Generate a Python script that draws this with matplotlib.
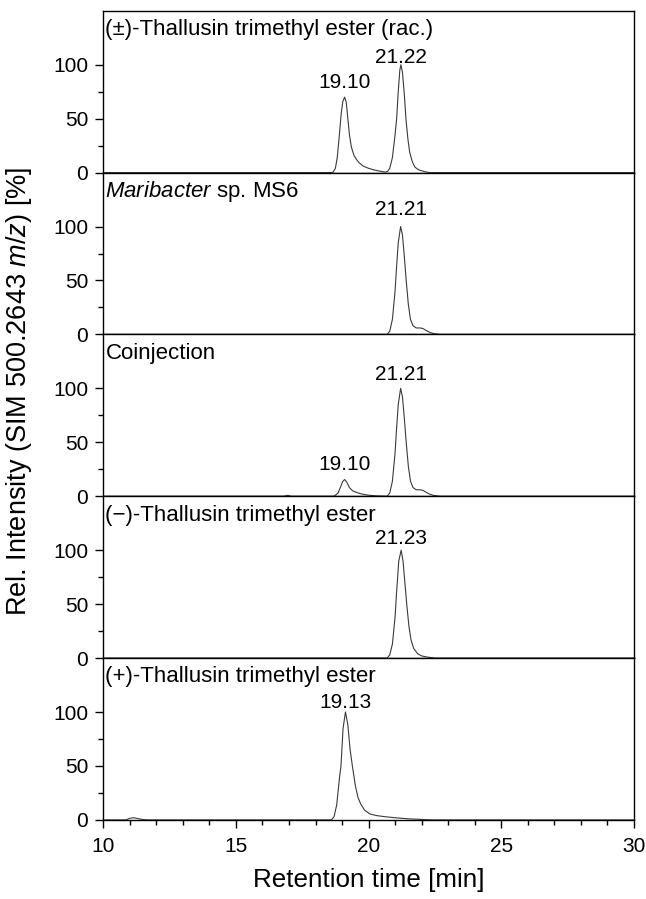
import numpy as np
import matplotlib
matplotlib.use("Agg")
import matplotlib.pyplot as plt
from matplotlib.ticker import MultipleLocator, FixedLocator

plt.rcParams['font.family'] = ['Liberation Sans', 'DejaVu Sans']
plt.rcParams['mathtext.fontset'] = 'custom'
plt.rcParams['mathtext.rm'] = 'Liberation Sans'
plt.rcParams['mathtext.it'] = 'Liberation Sans:italic'

# traces (time [min], rel. intensity [%])
rac_t = [10.0, 18.65, 18.75, 18.82, 18.90, 18.97, 19.03, 19.10, 19.16, 19.22, 19.28, 19.35,
         19.45, 19.55, 19.65, 19.80, 20.00, 20.20, 20.40, 20.55, 20.65, 20.72, 20.80, 20.90,
         21.00, 21.06, 21.12, 21.18, 21.22, 21.28, 21.35, 21.41, 21.48, 21.55, 21.65, 21.75,
         21.90, 22.10, 22.30, 30.0]
rac_y = [0, 0, 4, 14, 35, 55, 66, 70, 65, 50, 35, 24,
         16, 12, 9, 6, 4, 2.5, 1.5, 0.8, 0.5, 1.2, 4, 14,
         35, 50, 75, 95, 100, 93, 72, 50, 32, 19, 10, 5,
         2.5, 1, 0, 0]

mari_t = [10.0, 20.70, 20.80, 20.90, 21.00, 21.05, 21.12, 21.21, 21.28, 21.35, 21.42, 21.50,
          21.58, 21.68, 21.80, 21.95, 22.05, 22.15, 22.30, 22.45, 22.70, 30.0]
mari_y = [0, 0, 3, 14, 40, 60, 85, 100, 92, 72, 50, 28,
          14, 8, 6, 6, 5.5, 4, 2, 0.8, 0, 0]

coin_t = [10.0, 16.80, 16.95, 17.10, 18.70, 18.85, 18.95, 19.02, 19.10, 19.18, 19.28, 19.40,
          19.55, 19.75, 20.00, 20.30, 20.70, 20.80, 20.90, 21.00, 21.05, 21.12, 21.21, 21.28,
          21.35, 21.42, 21.50, 21.58, 21.68, 21.80, 21.95, 22.05, 22.15, 22.30, 22.45, 22.70, 30.0]
coin_y = [0, 0, 0.8, 0, 0, 3, 9, 13.5, 15.5, 13, 8, 5,
          3.5, 2, 1, 0.3, 0, 3, 14, 40, 60, 85, 100, 92,
          72, 50, 28, 14, 8, 6, 6, 5.5, 4, 2, 0.8, 0, 0]

minus_t = [10.0, 20.70, 20.80, 20.90, 21.00, 21.06, 21.14, 21.23, 21.30, 21.37, 21.44, 21.52,
           21.60, 21.70, 21.85, 22.00, 22.20, 22.50, 30.0]
minus_y = [0, 0, 3, 13, 38, 62, 90, 100, 90, 70, 50, 30,
           17, 9, 4, 2, 1, 0, 0]

plus_t = [10.0, 10.85, 11.00, 11.15, 11.30, 11.50, 11.70, 18.60, 18.70, 18.80, 18.90, 18.96,
          19.04, 19.13, 19.22, 19.30, 19.39, 19.50, 19.60, 19.70, 19.85, 20.05, 20.30, 20.60,
          21.00, 21.50, 22.10, 22.40, 30.0]
plus_y = [0, 0, 1.5, 2, 1.2, 0.3, 0, 0, 3, 14, 38, 50,
          85, 100, 88, 66, 50, 32, 21, 15, 9, 5.5, 4, 3,
          2, 1, 0.3, 0, 0]

panel_names = ['(±)-Thallusin trimethyl ester (rac.)',
               r'$\mathit{Maribacter}$ sp. MS6',
               'Coinjection',
               '(−)-Thallusin trimethyl ester',
               '(+)-Thallusin trimethyl ester']
traces = [(rac_t, rac_y), (mari_t, mari_y), (coin_t, coin_y),
          (minus_t, minus_y), (plus_t, plus_y)]
# peak labels per panel: (retention time, height, text)
peak_labels = [[(19.10, 70, '19.10'), (21.22, 100, '21.22')],
               [(21.21, 100, '21.21')],
               [(19.10, 15.5, '19.10'), (21.21, 100, '21.21')],
               [(21.23, 100, '21.23')],
               [(19.13, 100, '19.13')]]
# vertical gap between peak top and label baseline, in points
label_gaps = [[6.5, 1], [8], [6.5, 6], [4.5], [3]]

fig = plt.figure(figsize=(6.46, 8.99), dpi=100)
gs = fig.add_gridspec(5, 1, left=0.160, right=0.981, top=0.988, bottom=0.088, hspace=0)

for i, ((t, y), name, peaks, gaps) in enumerate(zip(traces, panel_names, peak_labels, label_gaps)):
    ax = fig.add_subplot(gs[i, 0])
    ax.plot(t, y, color='#3a3a3a', lw=0.8)
    ax.set_xlim(10, 30)
    ax.set_ylim(0, 150)
    ax.yaxis.set_major_locator(FixedLocator([0, 50, 100]))
    ax.yaxis.set_minor_locator(FixedLocator([25, 75]))
    ax.tick_params(axis='y', which='major', direction='out', length=6, width=1,
                   labelsize=15, pad=5)
    ax.tick_params(axis='y', which='minor', direction='out', length=3.5, width=1)
    for s in ax.spines.values():
        s.set_linewidth(1.0)
    ax.text(0.004, 0.85, name, transform=ax.transAxes, ha='left', va='baseline', fontsize=16)
    for (pt, ph, lab), gap in zip(peaks, gaps):
        ax.annotate(lab, (pt, ph), xytext=(0, gap), textcoords='offset points',
                    ha='center', va='baseline', fontsize=15)
    if i < 4:
        ax.tick_params(axis='x', which='both', bottom=False, labelbottom=False)
    else:
        ax.xaxis.set_major_locator(MultipleLocator(5))
        ax.xaxis.set_minor_locator(MultipleLocator(1))
        ax.tick_params(axis='x', which='major', direction='out', length=6, width=1,
                       labelsize=15, pad=6)
        ax.tick_params(axis='x', which='minor', direction='out', length=3.5, width=1)
        ax.set_xlabel('Retention time [min]', fontsize=18.7, labelpad=9)

fig.text(0.030, 0.565, r'Rel. Intensity (SIM 500.2643 $\mathit{m/z}$) [%]',
         rotation=90, ha='center', va='center', fontsize=19.5)

fig.savefig('out.png', dpi=100)
